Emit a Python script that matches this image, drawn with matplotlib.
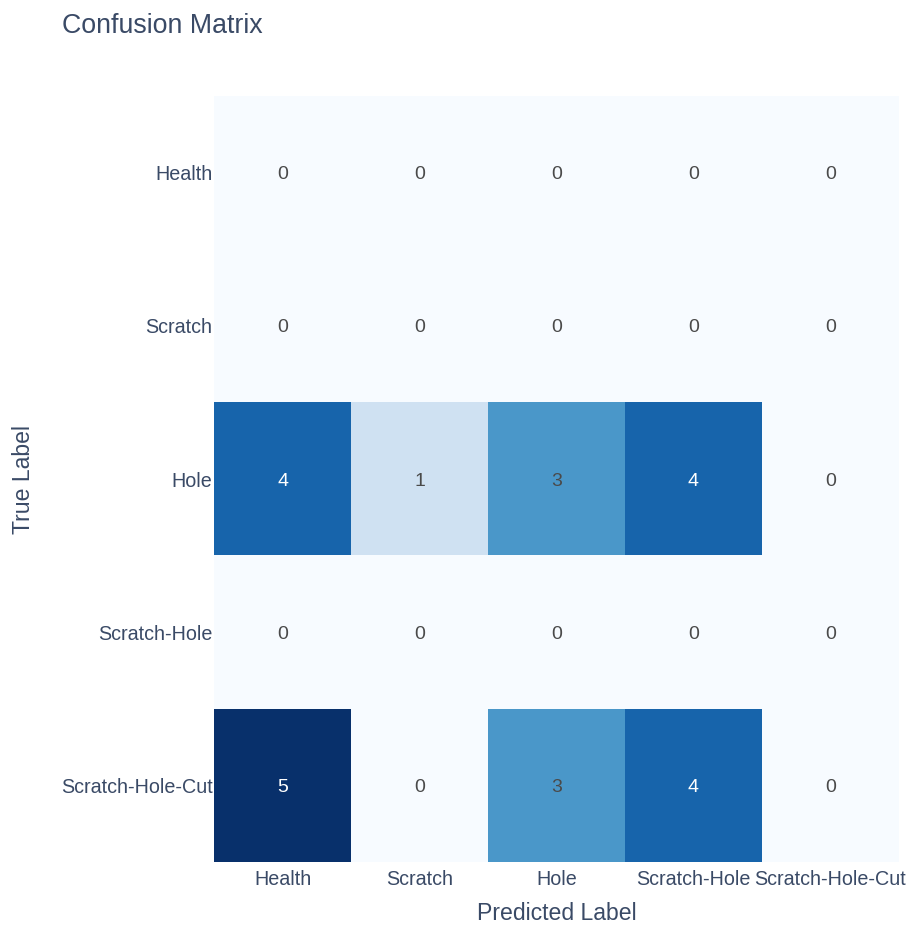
import matplotlib
matplotlib.use("Agg")
import matplotlib.pyplot as plt
import numpy as np

labels = ["Health", "Scratch", "Hole", "Scratch-Hole", "Scratch-Hole-Cut"]
matrix = [
    [0, 0, 0, 0, 0],
    [0, 0, 0, 0, 0],
    [4, 1, 3, 4, 0],
    [0, 0, 0, 0, 0],
    [5, 0, 3, 4, 0],
]

plt.rcParams['font.family'] = ['Liberation Sans', 'DejaVu Sans']
txt = '#3a4a66'

W, H = 911, 926
fig = plt.figure(figsize=(W/100, H/100), dpi=100)
ax = fig.add_axes([214/W, 1-862/H, (899-214)/W, (862-96)/H])
data = np.array(matrix)
ax.imshow(data, cmap='Blues', vmin=0, vmax=data.max(), aspect='auto', interpolation='nearest')
for i in range(data.shape[0]):
    for j in range(data.shape[1]):
        v = data[i, j]
        c = 'white' if v / data.max() > 0.7 else '#4a4a4a'
        ax.text(j, i, str(v), ha='center', va='center_baseline', fontsize=14, color=c)
ax.set_xticks(range(len(labels)))
ax.set_xticklabels(labels, fontsize=14.2, color=txt)
ax.set_yticks(range(len(labels)))
ax.set_yticklabels(labels, fontsize=14.2, color=txt)
ax.tick_params(axis='x', length=0, pad=6)
ax.tick_params(axis='y', length=0, pad=1)
for s in ax.spines.values():
    s.set_visible(False)
fig.text(557/W, 1-913/H, "Predicted Label", ha='center', va='center', fontsize=16.6, color=txt)
fig.text(24/W, 1-479/H, "True Label", rotation=90, ha='center', va='center', fontsize=16.6, color=txt)
fig.text(62/W, 1-26/H, "Confusion Matrix", ha='left', va='center', fontsize=19.3, color=txt)
fig.savefig("out.png", dpi=100)
